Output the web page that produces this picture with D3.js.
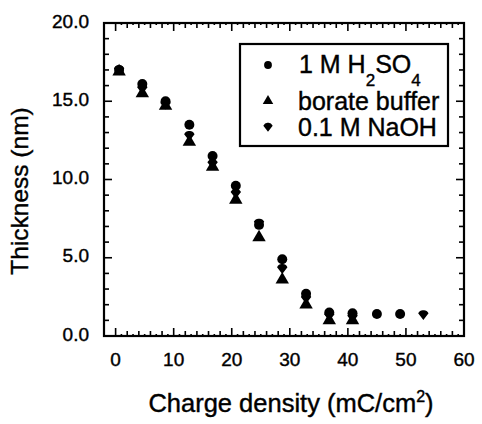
<!DOCTYPE html>
<html>
<head>
<meta charset="utf-8">
<script src="https://cdn.jsdelivr.net/npm/d3@7"></script>
<style>
  body { margin: 0; background: #fff; }
  text { font-family: "Liberation Sans", Arial, sans-serif; fill: #000; stroke: #000; stroke-width: 0.4px; }
</style>
</head>
<body>
<div id="chart"></div>
<script>
// values
const xTicks = [0, 10, 20, 30, 40, 50, 60];
const yTicks = [0, 5, 10, 15, 20];

const xH2SO4 = [0.6, 4.6, 8.6, 12.7, 16.7, 20.7, 24.7, 28.7, 32.8, 36.8, 40.8, 45.0, 49.0];
const yH2SO4 = [17.0, 16.1, 15.0, 13.5, 11.5, 9.6, 7.1, 4.9, 2.7, 1.5, 1.45, 1.4, 1.4];

const xBorate = [0.6, 4.6, 8.6, 12.7, 16.7, 20.7, 24.7, 28.7, 32.8, 36.8, 40.8];
const yBorate = [16.9, 15.5, 14.7, 12.4, 10.8, 8.7, 6.3, 3.6, 2.0, 1.0, 1.0];

const xNaOH = [0.6, 4.6, 8.6, 12.7, 16.7, 20.7, 24.7, 28.7, 32.8, 36.8, 40.8, 53.0];
const yNaOH = [17.0, 15.8, 14.8, 12.8, 11.0, 9.1, 7.2, 4.3, 2.4, 1.3, 1.2, 1.35];

const width = 482, height = 424;
const margin = { left: 104, right: 18, top: 23, bottom: 88 };

const svg = d3.select('#chart').append('svg')
    .attr('width', width)
    .attr('height', height);

const x = d3.scaleLinear().domain([-2, 60]).range([margin.left, width - margin.right]);
const y = d3.scaleLinear().domain([0, 20]).range([height - margin.bottom, margin.top]);

const x0 = x.range()[0], x1 = x.range()[1];
const y0 = y.range()[0], y1 = y.range()[1];

// ticks on all four sides, pointing inward
const tickG = svg.append('g').attr('stroke', '#000').attr('stroke-width', 1.6);
d3.range(0, 61, 1).forEach(v => {
    const len = v % 10 === 0 ? 8 : (v % 2 === 0 ? 5 : 2);
    tickG.append('line').attr('x1', x(v)).attr('x2', x(v)).attr('y1', y0).attr('y2', y0 - len);
    tickG.append('line').attr('x1', x(v)).attr('x2', x(v)).attr('y1', y1).attr('y2', y1 + len);
});
d3.range(0, 21, 1).forEach(v => {
    const len = v % 5 === 0 ? 8 : 5;
    tickG.append('line').attr('x1', x0).attr('x2', x0 + len).attr('y1', y(v)).attr('y2', y(v));
    tickG.append('line').attr('x1', x1).attr('x2', x1 - len).attr('y1', y(v)).attr('y2', y(v));
});

// frame
svg.append('rect')
    .attr('x', x0).attr('y', y1)
    .attr('width', x1 - x0).attr('height', y0 - y1)
    .attr('fill', 'none').attr('stroke', '#000').attr('stroke-width', 2.2);

// tick labels
svg.append('g').selectAll('text').data(xTicks).join('text')
    .attr('x', d => x(d))
    .attr('y', 366)
    .attr('text-anchor', 'middle')
    .style('font-size', '19px')
    .text(d => d);

svg.append('g').selectAll('text').data(yTicks).join('text')
    .attr('x', 89)
    .attr('y', d => y(d) - 2)
    .attr('dy', '0.35em')
    .attr('text-anchor', 'end')
    .style('font-size', '19px')
    .text(d => d.toFixed(1));

// axis titles
const xt = svg.append('text')
    .attr('x', 291).attr('y', 412)
    .attr('text-anchor', 'middle')
    .style('font-size', '25.5px');
xt.append('tspan').text('Charge density (mC/cm');
xt.append('tspan').attr('dy', -10).style('font-size', '16px').text('2');
xt.append('tspan').attr('dy', 10).text(')');

svg.append('text')
    .attr('transform', 'translate(28,191) rotate(-90)')
    .attr('text-anchor', 'middle')
    .style('font-size', '24.5px')
    .text('Thickness (nm)');

// markers
const circleSym = d3.symbol().type(d3.symbolCircle).size(78);
const triSym = d3.symbol().type(d3.symbolTriangle).size(78);
const shieldPath = 'M-5.2,-1.5 Q-3.4,-5 0,-4.6 Q3.4,-5 5.2,-1.5 L0,5.2 Z';

function drawSeries(xs, ys, pathFn) {
    svg.append('g').selectAll('path').data(xs.map((v, i) => [v, ys[i]])).join('path')
        .attr('transform', d => `translate(${x(d[0])},${y(d[1])})`)
        .attr('d', pathFn)
        .attr('fill', '#000');
}
drawSeries(xBorate, yBorate, () => triSym());
drawSeries(xNaOH, yNaOH, () => shieldPath);
drawSeries(xH2SO4, yH2SO4, () => circleSym());

// legend
const lg = svg.append('g');
lg.append('rect')
    .attr('x', 240).attr('y', 44).attr('width', 208).attr('height', 102)
    .attr('fill', '#fff').attr('stroke', '#000').attr('stroke-width', 2.2);

lg.append('path').attr('transform', 'translate(268,65)').attr('d', d3.symbol().type(d3.symbolCircle).size(48)()).attr('fill', '#000');
lg.append('path').attr('transform', 'translate(268,101)').attr('d', d3.symbol().type(d3.symbolTriangle).size(48)()).attr('fill', '#000');
lg.append('path').attr('transform', 'translate(268,127) scale(0.9)').attr('d', shieldPath).attr('fill', '#000');

const l1 = lg.append('text').attr('x', 299).attr('y', 73).style('font-size', '25px');
l1.append('tspan').text('1 M H');
l1.append('tspan').attr('dy', 13).style('font-size', '17px').text('2');
l1.append('tspan').attr('dy', -13).text('SO');
l1.append('tspan').attr('dy', 13).style('font-size', '17px').text('4');

lg.append('text').attr('x', 298).attr('y', 110).style('font-size', '25px').text('borate buffer');
lg.append('text').attr('x', 298).attr('y', 136).style('font-size', '25px').text('0.1 M NaOH');
</script>
</body>
</html>
